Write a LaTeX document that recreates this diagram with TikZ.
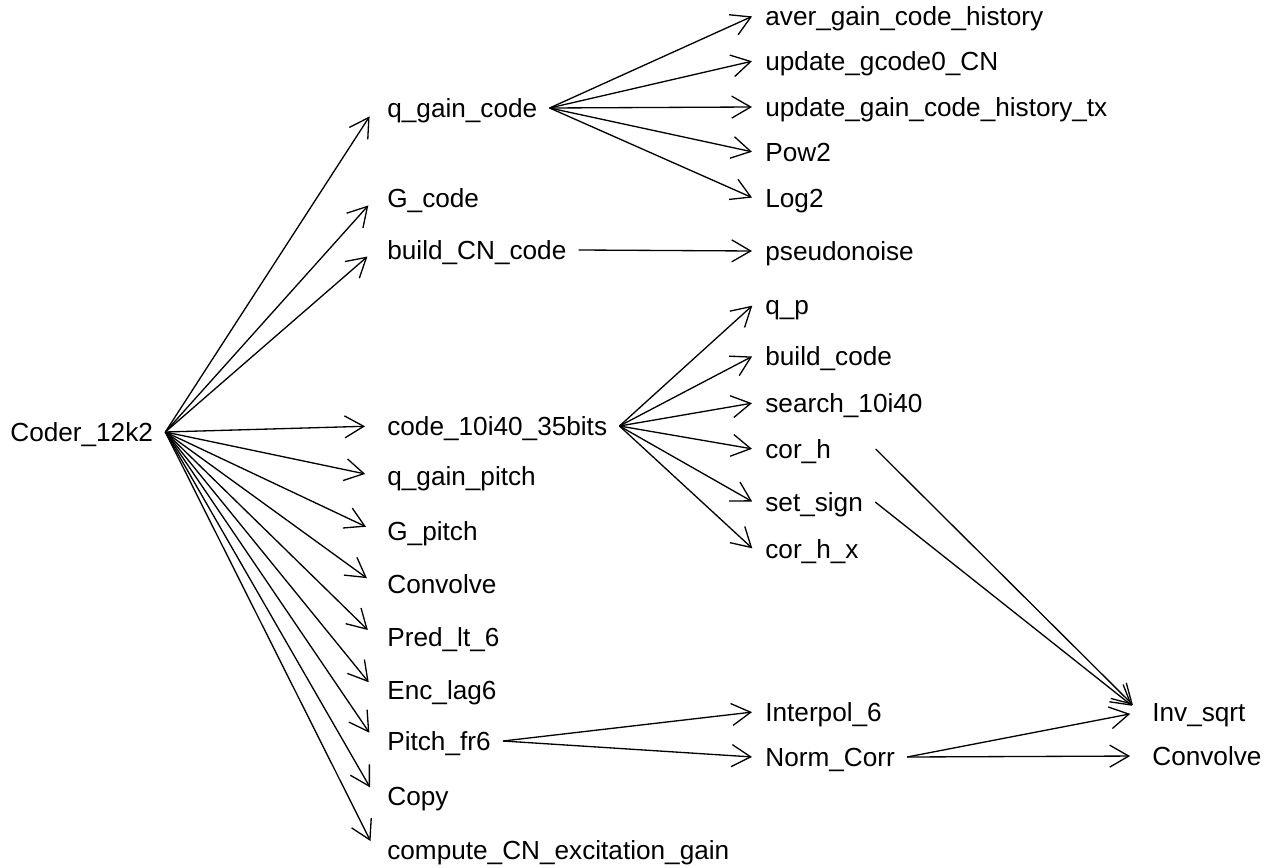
\documentclass[tikz,border=0pt]{standalone}
\usepackage{fontspec}
\setmainfont{Liberation Sans}
\usetikzlibrary{arrows.meta}
\tikzset{fn/.style = {anchor = west, inner xsep = 0.24cm, inner ysep = 0pt, text height = 0.376cm, text depth = 0pt, font = \fontsize{14.9pt}{18pt}\selectfont}}
\tikzset{call/.style = {-{Straight Barb[length = 0.38cm, width = 0.44cm]}, line width = 0.75pt, shorten > = 0.2cm}}
\tikzset{near/.style = {shorten > = 0.02cm}}

\begin{document}
\begin{tikzpicture}[x = 0.02cm, y = -0.02cm]
\useasboundingbox (0,0) rectangle (1271,868);
\node[fn] (coder) at (-2,432) {Coder\_12k2};
\node[fn] (qgaincode) at (375,108) {q\_gain\_code};
\node[fn] (gcode) at (375,198) {G\_code};
\node[fn] (buildcn) at (375,250) {build\_CN\_code};
\node[fn] (code10) at (375,426) {code\_10i40\_35bits};
\node[fn] (qgainpitch) at (375,476) {q\_gain\_pitch};
\node[fn] (gpitch) at (375,531) {G\_pitch};
\node[fn] (convolve) at (375,584) {Convolve};
\node[fn] (predlt) at (375,637) {Pred\_lt\_6};
\node[fn] (enclag) at (375,690) {Enc\_lag6};
\node[fn] (pitchfr) at (375,741) {Pitch\_fr6};
\node[fn] (copy) at (375,796) {Copy};
\node[fn] (computecn) at (375,850) {compute\_CN\_excitation\_gain};
\node[fn] (avergain) at (753,16) {aver\_gain\_code\_history};
\node[fn] (updgcode) at (753,61) {update\_gcode0\_CN};
\node[fn] (updhist) at (753,107) {update\_gain\_code\_history\_tx};
\node[fn] (pow) at (753,152) {Pow2};
\node[fn] (log) at (753,198) {Log2};
\node[fn] (pseudo) at (753,251) {pseudonoise};
\node[fn] (qp) at (753,305) {q\_p};
\node[fn] (buildcode) at (753,356) {build\_code};
\node[fn] (search) at (753,403) {search\_10i40};
\node[fn, text width = 1.96cm, align = left] (corh) at (753,449) {cor\_h};
\node[fn] (setsign) at (753,502) {set\_sign};
\node[fn] (corhx) at (753,549) {cor\_h\_x};
\node[fn] (interpol) at (753,712) {Interpol\_6};
\node[fn] (normcorr) at (753,757) {Norm\_Corr};
\node[fn] (invsqrt) at (1140,712) {Inv\_sqrt};
\node[fn] (convolveb) at (1140,756) {Convolve};
\draw[call] (coder.east) -- (qgaincode.west);
\draw[call] (coder.east) -- (gcode.west);
\draw[call] (coder.east) -- (buildcn.west);
\draw[call] (coder.east) -- (code10.west);
\draw[call] (coder.east) -- (qgainpitch.west);
\draw[call] (coder.east) -- (gpitch.west);
\draw[call] (coder.east) -- (convolve.west);
\draw[call] (coder.east) -- (predlt.west);
\draw[call] (coder.east) -- (enclag.west);
\draw[call] (coder.east) -- (pitchfr.west);
\draw[call] (coder.east) -- (copy.west);
\draw[call] (coder.east) -- (computecn.west);
\draw[call, near] (qgaincode.east) -- (avergain.west);
\draw[call, near] (qgaincode.east) -- (updgcode.west);
\draw[call, near] (qgaincode.east) -- (updhist.west);
\draw[call, near] (qgaincode.east) -- (pow.west);
\draw[call, near] (qgaincode.east) -- (log.west);
\draw[call, near] (buildcn.east) -- (pseudo.west);
\draw[call, near] (code10.east) -- (qp.west);
\draw[call, near] (code10.east) -- (buildcode.west);
\draw[call, near] (code10.east) -- (search.west);
\draw[call, near] (code10.east) -- (corh.west);
\draw[call, near] (code10.east) -- (setsign.west);
\draw[call, near] (code10.east) -- (corhx.west);
\draw[call, near] (pitchfr.east) -- (interpol.west);
\draw[call, near] (pitchfr.east) -- (normcorr.west);
\draw[call] (corh.east) -- (invsqrt.west);
\draw[call] (setsign.east) -- (invsqrt.west);
\draw[call] (normcorr.east) -- (invsqrt.west);
\draw[call] (normcorr.east) -- (convolveb.west);
\end{tikzpicture}
\end{document}
